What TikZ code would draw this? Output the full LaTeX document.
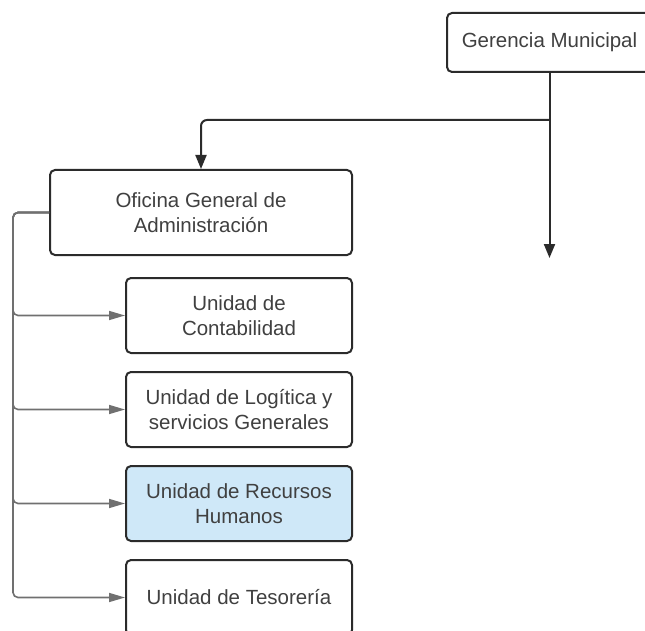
\documentclass[tikz,border=0pt]{standalone}
\usepackage{fontspec}
\setmainfont{Liberation Sans}
\usetikzlibrary{arrows.meta}
\definecolor{txt}{HTML}{404040}
\definecolor{bordr}{HTML}{2B2B2B}
\definecolor{conn}{HTML}{707070}
\definecolor{hilite}{HTML}{CFE8F8}
\begin{document}
\begin{tikzpicture}[x=1pt,y=-1pt,
  box/.style={draw=bordr, line width=2pt, rounded corners=5pt, fill=white,
    text=txt, font=\fontsize{20.5}{25.5}\selectfont, align=center, inner sep=0pt},
  blk/.style={draw=bordr, line width=2pt, rounded corners=6pt, -{Triangle[length=14pt,width=11pt]}},
  gry/.style={draw=conn, line width=1.6pt, rounded corners=5pt, -{Triangle[length=16pt,width=9pt]}}]
\useasboundingbox (0,0) rectangle (645,631);
\clip (0,0) rectangle (645,631);
\node[box, minimum width=205pt, minimum height=59pt] (ger) at (549.5,42.5) {Gerencia Municipal};
\node[box, minimum width=302pt, minimum height=85pt] (ofi) at (201,212.5) {Oficina General de\\Administración};
\node[box, minimum width=226pt, minimum height=75pt] (con) at (239,315.5) {Unidad de\\Contabilidad};
\node[box, minimum width=226pt, minimum height=75pt] (log) at (239,409.5) {Unidad de Logítica y\\servicios Generales};
\node[box, fill=hilite, minimum width=226pt, minimum height=75pt] (rrh) at (239,503.5) {Unidad de Recursos\\Humanos};
\node[box, minimum width=226pt, minimum height=75pt] (tes) at (239,597.5) {Unidad de Tesorería};
\coordinate (rend) at (549.5,258);
\coordinate (split) at (549.5,120);
\coordinate (trunk) at (13,212.5);
\draw[blk] (ger.south) -- (rend);
\draw[blk] (split) -| (ofi.north);
\draw[gry] (ofi.west) -- (trunk) |- (con.west);
\draw[gry] (ofi.west) -- (trunk) |- (log.west);
\draw[gry] (ofi.west) -- (trunk) |- (rrh.west);
\draw[gry] (ofi.west) -- (trunk) |- (tes.west);
\end{tikzpicture}
\end{document}
